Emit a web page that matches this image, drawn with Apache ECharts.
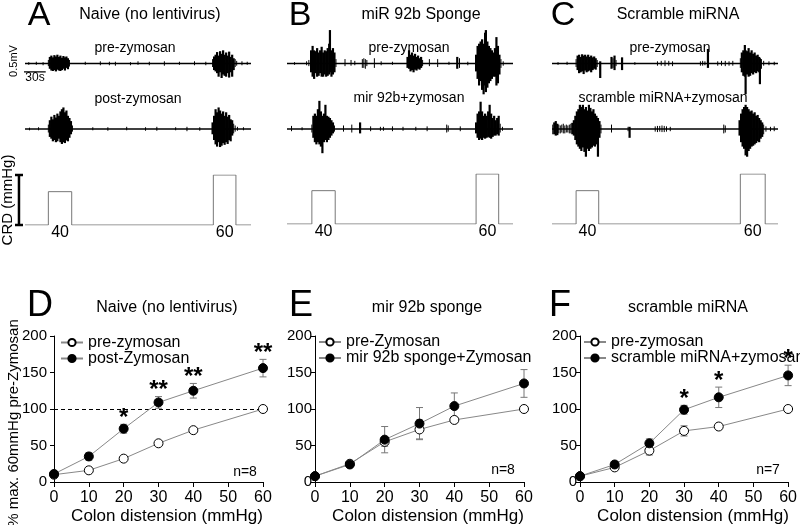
<!DOCTYPE html>
<html>
<head>
<meta charset="utf-8">
<script src="https://cdn.jsdelivr.net/npm/echarts@6/dist/echarts.min.js"></script>
<style>
html, body { margin: 0; padding: 0; background: #fff; }
#main { width: 800px; height: 525px; }
</style>
</head>
<body>
<div id="main"></div>
<script>
// recordings: [time (s), up (mV), down (mV)]
const naivePre = [[5,.03,.03],[15,.04,.03],[24,.03,.04],
  [31,.08,.06],[33,.15,.12],[35,.18,.16],[37,.14,.17],[39,.19,.15],[41,.16,.18],[43,.2,.14],[45,.15,.16],[47,.18,.17],[49,.13,.15],[51,.17,.12],[53,.14,.16],[55,.16,.1],[57,.12,.13],[59,.08,.07],
  [80,.04,.03],[100,.05,.04],[112,.04,.04],[120,.04,.05],[140,.03,.04],[150,.05,.03],[165,.04,.04],[185,.05,.05],[205,.04,.03],[225,.05,.04],[240,.04,.04],
  [249,.1,.08],[251,.16,.15],[253,.2,.18],[255,.26,.22],[257,.18,.3],[259,.28,.2],[261,.22,.33],[263,.3,.25],[265,.2,.28],[267,.25,.3],[269,.18,.22],[271,.27,.32],[273,.15,.2],[275,.2,.3],[277,.12,.15],[279,.1,.08],[281,.06,.05],[288,.05,.04],[295,.04,.03]]
const naivePost = [[6,.03,.03],[18,.04,.03],
  [31,.1,.08],[33,.2,.18],[35,.28,.22],[37,.22,.28],[39,.32,.25],[41,.26,.3],[43,.35,.28],[45,.3,.22],[47,.4,.3],[49,.45,.34],[51,.49,.3],[53,.38,.32],[55,.42,.26],[57,.3,.28],[59,.25,.2],[61,.18,.12],[63,.08,.06],
  [90,.04,.03],[110,.04,.04],[135,.05,.03],[160,.04,.04],[175,.05,.04],[200,.04,.03],[215,.05,.05],[232,.04,.04],
  [249,.15,.12],[251,.3,.25],[253,.45,.35],[255,.38,.4],[257,.49,.3],[259,.42,.41],[261,.35,.38],[263,.4,.32],[265,.3,.36],[267,.38,.3],[269,.28,.34],[271,.32,.25],[273,.22,.28],[275,.2,.15],[277,.12,.1],[279,.08,.06],[282,.05,.04],[290,.04,.03]]
const spongePre = [[10,.03,.03],[26,.05,.04],[29,.08,.06],
  [32,.3,.2],[34,.4,.3],[36,.3,.35],[38,.28,.22],[40,.35,.3],[42,.25,.28],[44,.3,.22],[46,.38,.3],[48,.25,.3],[50,.3,.25],[52,.28,.3],[54,.35,.28],[56,.45,.25],[57,.76,.2],[59,.3,.3],[61,.35,.25],[63,.25,.2],[65,.1,.08],
  [77,.1,.06],[85,.08,.05],[90,.06,.04],[100,.1,.1],[102,.12,.1],[104,.1,.12],[106,.08,.06],[116,.12,.1],[125,.05,.04],[140,.04,.03],
  [160,.15,.1],[162,.3,.12],[164,.2,.18],[166,.25,.15],[168,.18,.2],[170,.22,.14],[172,.15,.16],[174,.18,.12],[176,.12,.14],[178,.15,.1],[180,.08,.06],
  [189,.1,.06],[200,.1,.08],[215,.04,.03],[226,.15,.12],[229,.12,.1],[240,.04,.04],
  [251,.2,.18],[253,.4,.35],[255,.45,.5],[257,.5,.4],[259,.55,.6],[261,.45,.7],[263,.7,.5],[264,.76,.65],[266,.5,.55],[268,.4,.45],[270,.35,.4],[272,.3,.35],[274,.25,.3],[276,.35,.3],[278,.6,.5],[280,.4,.45],[282,.2,.25],[284,.1,.1],[287,.05,.05]]
const spongePost = [[6,.07,.05],[20,.04,.03],
  [33,.1,.08],[35,.3,.2],[37,.35,.3],[39,.3,.35],[41,.45,.3],[43,.64,.35],[45,.4,.4],[47,.3,.55],[49,.35,.3],[51,.55,.25],[53,.3,.3],[55,.28,.25],[57,.25,.2],[59,.2,.15],[61,.15,.1],[63,.08,.06],
  [75,.08,.06],[86,.1,.08],[97,.15,.1],[111,.06,.05],[124,.05,.04],[128,.05,.04],[140,.06,.05],[154,.05,.04],[171,.05,.04],[186,.06,.05],[212,.1,.08],[214,.08,.06],[230,.06,.05],
  [251,.15,.1],[253,.35,.2],[255,.4,.25],[257,.62,.22],[259,.4,.25],[261,.3,.2],[263,.35,.22],[265,.3,.2],[267,.4,.18],[269,.55,.2],[271,.35,.22],[273,.25,.18],[275,.3,.15],[277,.2,.15],[279,.25,.12],[281,.3,.15],[283,.12,.08],[286,.05,.04]]
const scramblePre = [[8,.03,.03],[20,.04,.03],
  [32,.1,.08],[34,.18,.15],[36,.2,.22],[38,.15,.2],[40,.21,.18],[42,.18,.24],[44,.2,.16],[46,.16,.2],[48,.2,.18],[50,.15,.16],[52,.18,.2],[54,.14,.15],[56,.16,.12],[58,.12,.14],[60,.08,.08],[64,.05,.33],
  [79,.15,.12],[81,.12,.1],[83,.18,.15],[85,.08,.06],[93,.14,.15],[110,.03,.03],
  [140,.05,.05],[145,.06,.05],[150,.07,.06],[155,.06,.05],[160,.05,.06],
  [197,.05,.05],[200,.06,.05],[203,.05,.04],[207,.33,.1],[220,.05,.05],[225,.06,.05],[230,.06,.06],[235,.05,.05],[240,.06,.05],
  [250,.12,.1],[252,.25,.2],[254,.3,.28],[256,.42,.3],[257,.3,.7],[259,.28,.25],[261,.35,.3],[263,.25,.28],[265,.3,.22],[267,.22,.25],[269,.25,.2],[271,.18,.22],[273,.2,.18],[275,.15,.2],[276,.12,.47],[278,.1,.12],[281,.06,.05],[288,.05,.04],[295,.04,.04]]
const scramblePost = [[1,.1,.12],[3,.15,.12],[5,.18,.15],[7,.12,.14],[9,.1,.1],[11,.08,.1],[13,.1,.08],[15,.12,.1],[17,.08,.1],[19,.1,.08],[21,.08,.08],[23,.1,.1],[25,.12,.1],[27,.14,.12],[29,.2,.15],
  [31,.3,.25],[33,.4,.35],[35,.45,.4],[37,.55,.45],[39,.5,.5],[41,.55,.42],[43,.45,.52],[45,.5,.63],[47,.42,.45],[49,.55,.5],[51,.48,.45],[53,.4,.42],[55,.45,.38],[57,.35,.4],[59,.3,.35],[61,.25,.63],[63,.18,.2],[65,.1,.1],
  [79,.1,.08],[101,.05,.05],[103,.05,.2],[137,.06,.06],[140,.07,.07],[143,.07,.06],[146,.08,.07],[149,.07,.07],[152,.06,.06],[157,.05,.05],[228,.1,.1],[230,.08,.08],
  [249,.2,.15],[251,.35,.3],[253,.45,.4],[255,.5,.45],[257,.55,.6],[259,.5,.63],[261,.45,.5],[263,.4,.45],[265,.42,.4],[267,.35,.38],[269,.38,.35],[271,.3,.32],[273,.32,.28],[275,.25,.3],[277,.2,.22],[279,.15,.18],[281,.1,.12],[284,.06,.06],[290,.05,.05],[295,.06,.05]]
const recordSpan = [0, 300]

// colorectal distension steps: [on (s), off (s), mmHg]
const crdNaive = [[31, 62, 40], [250, 280, 60]]
const crdSponge = [[33, 64, 40], [251, 281, 60]]
const crdScramble = [[32, 62, 40], [250, 283, 60]]
const scaleMv = 0.5
const scaleSec = 30
const crdScaleMax = 60

// responses, % of max 60mmHg pre-zymosan
const distension = [0, 10, 20, 30, 40, 60]
const naivePreMean = [10, 16, 32, 53, 71, 100]
const naivePreErr = [1, 2, 2, 2, 2, 0]
const naivePostMean = [11, 35, 73, 109, 125, 156]
const naivePostErr = [2, 5, 6, 8, 10, 12]
const naiveSig = ['', '', '*', '**', '**', '**']
const spongePreMean = [8, 25, 55, 72, 85, 100]
const spongePreErr = [2, 3, 6, 13, 4, 0]
const spongePostMean = [8, 24, 58, 80, 104, 135]
const spongePostErr = [2, 4, 18, 22, 18, 19]
const scramblePreMean = [8, 20, 43, 70, 76, 100]
const scramblePreErr = [1, 2, 6, 7, 4, 0]
const scramblePostMean = [8, 24, 53, 99, 116, 146]
const scramblePostErr = [1, 4, 6, 6, 14, 14]
const scrambleSig = ['', '', '', '*', '*', '*']
const nNaive = 8
const nSponge = 8
const nScramble = 7

const FONT = '"Liberation Sans", Arial, sans-serif'
const chart = echarts.init(document.getElementById('main'))

function txt (x, y, text, size, extra) {
  return Object.assign({
    type: 'text', x: x, y: y, silent: true,
    style: { text: text, fontSize: size, fontFamily: FONT, fill: '#000',
      align: 'center', textAlign: 'center', verticalAlign: 'middle', textVerticalAlign: 'middle' }
  }, extra || {})
}

function spikeSeries (g, data) {
  return {
    type: 'custom', xAxisIndex: g, yAxisIndex: g, data: data, clip: false, silent: true,
    renderItem: function (params, api) {
      const up = api.value(1), dn = api.value(2)
      const a = api.coord([api.value(0), up])
      const b = api.coord([api.value(0), -dn])
      // bursts are drawn thicker so they read as solid, small noise stays thin
      const w = Math.max(up, dn) > 0.12 ? 2.2 : 1
      return { type: 'line', shape: { x1: a[0], y1: a[1], x2: b[0], y2: b[1] }, style: { stroke: '#000', lineWidth: w } }
    }
  }
}

function baseSeries (g) {
  return {
    type: 'line', xAxisIndex: g, yAxisIndex: g, data: recordSpan.map(t => [t, 0]),
    symbol: 'none', silent: true, lineStyle: { color: '#000', width: 1.6 }
  }
}

function crdSeries (g, steps) {
  const pts = [[recordSpan[0], 0]]
  steps.forEach(s => { pts.push([s[0], 0], [s[0], s[2]], [s[1], s[2]], [s[1], 0]) })
  pts.push([recordSpan[1], 0])
  return [{
    type: 'line', xAxisIndex: g, yAxisIndex: g, data: pts, symbol: 'none', silent: true,
    lineStyle: { color: '#777', width: 1 }
  }, {
    type: 'scatter', xAxisIndex: g, yAxisIndex: g, symbolSize: 0, silent: true,
    itemStyle: { opacity: 1 },
    data: steps.map(s => [(s[0] + s[1]) / 2, 0, s[2]]),
    label: { show: true, position: 'bottom', distance: 0, formatter: p => p.data[2], fontSize: 16, fontFamily: FONT, color: '#000' }
  }]
}

function meanSeries (g, name, means, filled) {
  return {
    type: 'line', name: name, xAxisIndex: g, yAxisIndex: g, z: 5,
    data: distension.map((d, i) => [d, means[i]]),
    symbol: 'circle', symbolSize: 9, silent: true,
    lineStyle: { color: '#888', width: 1 },
    itemStyle: { color: filled ? '#000' : '#fff', borderColor: '#000', borderWidth: 1 },
    emphasis: { disabled: true }
  }
}

function errSeries (g, means, errs) {
  return {
    type: 'custom', xAxisIndex: g, yAxisIndex: g, z: 3, silent: true,
    data: distension.map((d, i) => [d, means[i], errs[i]]),
    renderItem: function (params, api) {
      const x = api.value(0), m = api.value(1), e = api.value(2)
      if (!e) return null
      const t = api.coord([x, m + e]), b = api.coord([x, m - e])
      const st = { stroke: '#777', lineWidth: 1 }
      return { type: 'group', children: [
        { type: 'line', shape: { x1: t[0], y1: t[1], x2: b[0], y2: b[1] }, style: st },
        { type: 'line', shape: { x1: t[0] - 3.5, y1: t[1], x2: t[0] + 3.5, y2: t[1] }, style: st },
        { type: 'line', shape: { x1: b[0] - 3.5, y1: b[1], x2: b[0] + 3.5, y2: b[1] }, style: st }
      ] }
    }
  }
}

function sigSeries (g, means, errs, sig) {
  const data = []
  sig.forEach((s, i) => { if (s) data.push([distension[i], means[i] + errs[i], s]) })
  return {
    type: 'scatter', xAxisIndex: g, yAxisIndex: g, symbolSize: 0, silent: true, z: 6, data: data,
    itemStyle: { opacity: 1 },
    label: { show: true, position: 'top', distance: -6, formatter: p => p.data[2], fontSize: 24, fontWeight: 'bold', fontFamily: FONT, color: '#000' }
  }
}

// grids: 0-5 recordings, 6-8 CRD, 9-11 plots
const traceLeft = [25, 287, 552]
const grids = [], xAxes = [], yAxes = []
traceLeft.forEach(l => {
  grids.push({ left: l, top: 19.5, width: 226, height: 88 })
  grids.push({ left: l, top: 85, width: 226, height: 88 })
})
traceLeft.forEach((l, i) => grids.push({ left: l, top: i === 0 ? 175 : 174, width: 226, height: 50 }))
;[54, 315, 580].forEach(l => grids.push({ left: l, top: 336, width: 209, height: 146 }))

for (let g = 0; g < 9; g++) {
  xAxes.push({ gridIndex: g, type: 'value', min: recordSpan[0], max: recordSpan[1], show: false })
  yAxes.push(g < 6
    ? { gridIndex: g, type: 'value', min: -1, max: 1, show: false }
    : { gridIndex: g, type: 'value', min: 0, max: 60, show: false })
}
for (let g = 9; g < 12; g++) {
  xAxes.push({
    gridIndex: g, type: 'value', min: 0, max: 60, interval: 10,
    axisLine: { lineStyle: { color: '#000', width: 1 } },
    axisTick: { length: 5, lineStyle: { color: '#000' } },
    axisLabel: { fontSize: 16, fontFamily: FONT, color: '#000', margin: 8 },
    splitLine: { show: false }
  })
  yAxes.push({
    gridIndex: g, type: 'value', min: 0, max: 200, interval: 50, offset: g === 9 ? 4 : 0,
    axisLine: { show: true, lineStyle: { color: '#000', width: 1 } },
    axisTick: { show: true, length: 4, lineStyle: { color: '#000' } },
    axisLabel: { fontSize: 15, fontFamily: FONT, color: '#000', margin: 3 },
    splitLine: { show: false }
  })
}

const series = []
const recs = [naivePre, naivePost, spongePre, spongePost, scramblePre, scramblePost]
recs.forEach((r, g) => { series.push(baseSeries(g), spikeSeries(g, r)) })
series.push(...crdSeries(6, crdNaive), ...crdSeries(7, crdSponge), ...crdSeries(8, crdScramble))

// recording scale bar (0.5 mV / 30 s) and CRD scale bar
series.push({
  type: 'line', xAxisIndex: 0, yAxisIndex: 0, symbol: 'none', silent: true, clip: false,
  data: [[-2.5, scaleMv - 0.19], [-2.5, -0.19], [-2.5 + scaleSec, -0.19]],
  lineStyle: { color: '#000', width: 1.2 }
})
series.push({
  type: 'custom', xAxisIndex: 6, yAxisIndex: 6, clip: false, silent: true, data: [[-8, 0, crdScaleMax]],
  renderItem: function (params, api) {
    const b = api.coord([api.value(0), api.value(1)]), t = api.coord([api.value(0), api.value(2)])
    const st = { stroke: '#000', lineWidth: 2.5 }
    return { type: 'group', children: [
      { type: 'line', shape: { x1: t[0], y1: t[1], x2: b[0], y2: b[1] }, style: st },
      { type: 'line', shape: { x1: t[0] - 4, y1: t[1], x2: t[0] + 4, y2: t[1] }, style: st },
      { type: 'line', shape: { x1: b[0] - 4, y1: b[1], x2: b[0] + 4, y2: b[1] }, style: st }
    ] }
  }
})

// D
series.push(meanSeries(9, 'pre-zymosan', naivePreMean, false), meanSeries(9, 'post-Zymosan', naivePostMean, true),
  errSeries(9, naivePreMean, naivePreErr), errSeries(9, naivePostMean, naivePostErr),
  sigSeries(9, naivePostMean, naivePostErr, naiveSig))
series[series.length - 5].markLine = {
  silent: true, symbol: 'none', label: { show: false },
  lineStyle: { color: '#000', type: [4, 3], width: 1 }, data: [{ yAxis: 100 }]
}
// E
series.push(meanSeries(10, 'pre-Zymosan', spongePreMean, false), meanSeries(10, 'mir 92b sponge+Zymosan', spongePostMean, true),
  errSeries(10, spongePreMean, spongePreErr), errSeries(10, spongePostMean, spongePostErr))
// F
series.push(meanSeries(11, 'pre-zymosan', scramblePreMean, false), meanSeries(11, 'scramble miRNA+zymosan', scramblePostMean, true),
  errSeries(11, scramblePreMean, scramblePreErr), errSeries(11, scramblePostMean, scramblePostErr),
  sigSeries(11, scramblePostMean, scramblePostErr, scrambleSig))

function legendAt (names, left, top, lh) {
  return {
    data: names, left: left, top: top, orient: 'vertical', itemWidth: 22, itemHeight: 9, itemGap: 0,
    padding: 0, selectedMode: false,
    textStyle: { fontSize: 16, lineHeight: lh, fontFamily: FONT, color: '#000' }
  }
}

const graphic = [
  txt(39, 16, 'A', 34), txt(300, 16, 'B', 34), txt(563, 16, 'C', 34),
  txt(150, 15, 'Naive (no lentivirus)', 16), txt(421, 15, 'miR 92b Sponge', 16), txt(678, 15, 'Scramble miRNA', 16),
  txt(135, 48, 'pre-zymosan', 14), txt(409, 48, 'pre-zymosan', 14), txt(670, 48, 'pre-zymosan', 14),
  txt(138, 99, 'post-zymosan', 14), txt(409, 98, 'mir 92b+zymosan', 14), txt(663, 98, 'scramble miRNA+zymosan', 14),
  txt(14, 61, scaleMv + 'mV', 11, { rotation: Math.PI / 2 }), txt(35, 78, scaleSec + 's', 12),
  txt(8, 200, 'CRD (mmHg)', 15, { rotation: Math.PI / 2 }),
  txt(40, 306, 'D', 36), txt(301, 306, 'E', 36), txt(560, 306, 'F', 36),
  txt(167, 308, 'Naive (no lentivirus)', 16), txt(427, 308, 'mir 92b sponge', 16), txt(688, 308, 'scramble miRNA', 16),
  txt(167, 516, 'Colon distension (mmHg)', 17), txt(428, 516, 'Colon distension (mmHg)', 17), txt(693, 516, 'Colon distension (mmHg)', 17),
  txt(14, 423, '% max. 60mmHg pre-Zymosan', 15, { rotation: Math.PI / 2 }),
  txt(245, 472, 'n=' + nNaive, 14), txt(503, 470, 'n=' + nSponge, 14), txt(768, 470, 'n=' + nScramble, 14)
]

chart.setOption({
  animation: false,
  backgroundColor: '#fff',
  grid: grids,
  xAxis: xAxes,
  yAxis: yAxes,
  legend: [
    legendAt(['pre-zymosan', 'post-Zymosan'], 60, 334.5, 11),
    legendAt(['pre-Zymosan', 'mir 92b sponge+Zymosan'], 318, 334, 14),
    legendAt(['pre-zymosan', 'scramble miRNA+zymosan'], 583, 334, 14)
  ],
  series: series,
  graphic: graphic
})
</script>
</body>
</html>
